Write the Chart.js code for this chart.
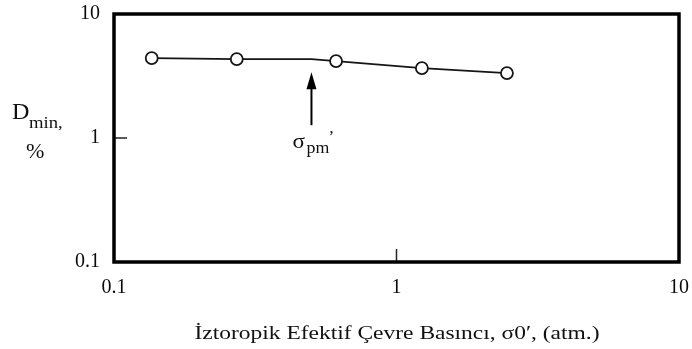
<!DOCTYPE html>
<html>
<head>
<meta charset="utf-8">
<script src="https://cdn.jsdelivr.net/npm/chart.js@4/dist/chart.umd.min.js"></script>
<style>
  html, body { margin: 0; padding: 0; background: #fff; }
  #wrap { width: 692px; height: 349px; }
</style>
</head>
<body>
<div id="wrap"><canvas id="c" width="692" height="349"></canvas></div>
<script>
// Minimum damping ratio vs. isotropic effective confining pressure (log-log)
const pressureAtm = [0.136, 0.272, 0.611, 1.23, 2.46];
const dminPct = [4.41, 4.33, 4.17, 3.66, 3.34];

// Pre-consolidation pressure marked on the curve (a vertex of the line, no marker)
const sigmaPmAtm = 0.5;
const dminAtSigmaPm = 4.32;

const xTickValues = [0.1, 1, 10];
const yTickValues = [0.1, 1, 10];
const xTickLabels = ['0.1', '1', '10'];
const yTickLabels = ['0.1', '1', '10'];

const xTitle = 'İztoropik Efektif Çevre Basıncı, σ0\u2032, (atm.)';

const SERIF = "'Liberation Serif', 'Times New Roman', Times, serif";

// Curve vertices: measured points plus the σpm' vertex, sorted by pressure
const curve = pressureAtm.map((x, i) => ({ x, y: dminPct[i] }))
  .concat([{ x: sigmaPmAtm, y: dminAtSigmaPm }])
  .sort((a, b) => a.x - b.x);
const markers = pressureAtm.map((x, i) => ({ x, y: dminPct[i] }));

// text slightly widened, like the typeset figure
function wideText(ctx, text, x, y, font, sx) {
  ctx.save();
  ctx.font = font;
  ctx.translate(x, y);
  ctx.scale(sx, 1);
  ctx.fillText(text, 0, 0);
  ctx.restore();
}

const decorations = {
  id: 'decorations',
  afterDraw(chart) {
    const { ctx, chartArea: a, scales: { x: xs, y: ys } } = chart;
    ctx.save();

    // inner tick marks at 1
    ctx.strokeStyle = '#222';
    ctx.lineWidth = 1.5;
    const x1 = xs.getPixelForValue(1);
    const y1 = ys.getPixelForValue(1);
    ctx.beginPath();
    ctx.moveTo(x1, a.bottom); ctx.lineTo(x1, a.bottom - 13);
    ctx.moveTo(a.left, y1); ctx.lineTo(a.left + 13, y1);
    ctx.stroke();

    // frame
    ctx.lineWidth = 3.5;
    ctx.strokeStyle = '#000';
    ctx.strokeRect(a.left, a.top, a.right - a.left, a.bottom - a.top);

    // arrow pointing at σpm'
    const ax = xs.getPixelForValue(sigmaPmAtm);
    const tip = ys.getPixelForValue(dminAtSigmaPm) + 13;
    ctx.fillStyle = '#000';
    ctx.beginPath();
    ctx.moveTo(ax, tip);
    ctx.lineTo(ax - 5, tip + 17);
    ctx.lineTo(ax + 5, tip + 17);
    ctx.closePath();
    ctx.fill();
    ctx.lineWidth = 2;
    ctx.beginPath();
    ctx.moveTo(ax, tip + 12); ctx.lineTo(ax, tip + 53);
    ctx.stroke();

    // σpm' label
    ctx.fillStyle = '#111';
    ctx.textBaseline = 'alphabetic';
    ctx.textAlign = 'left';
    wideText(ctx, 'σ', ax - 19, tip + 76, '22px ' + SERIF, 1.05);
    wideText(ctx, 'pm', ax - 5, tip + 81, '17px ' + SERIF, 1.05);
    wideText(ctx, '\u2019', ax + 17, tip + 70, '17px ' + SERIF, 1);

    // y-axis title
    wideText(ctx, 'D', 12, 119, '23px ' + SERIF, 1.05);
    wideText(ctx, 'min,', 29, 128, '17px ' + SERIF, 1.1);
    wideText(ctx, '%', 26, 158, '21px ' + SERIF, 1.05);

    // x-axis title, fitted to its span
    ctx.font = '19px ' + SERIF;
    const w = ctx.measureText(xTitle).width;
    const target = 405;
    const cx = (a.left + a.right) / 2 + 0.5;
    ctx.translate(cx, 339);
    ctx.scale(target / w, 1);
    ctx.textAlign = 'center';
    ctx.fillText(xTitle, 0, 0);

    ctx.restore();
  }
};

const tickFont = { family: SERIF, size: 20 };

new Chart(document.getElementById('c'), {
  type: 'scatter',
  data: {
    datasets: [
      {
        data: markers,
        showLine: false,
        pointRadius: 6,
        pointHoverRadius: 6,
        pointBorderWidth: 1.8,
        pointBorderColor: '#151515',
        pointBackgroundColor: '#fff',
        order: 0
      },
      {
        data: curve,
        showLine: true,
        borderColor: '#151515',
        borderWidth: 1.8,
        pointRadius: 0,
        pointHoverRadius: 0,
        order: 1
      }
    ]
  },
  options: {
    responsive: false,
    animation: false,
    events: [],
    layout: { padding: { top: 14, right: 13, left: 0, bottom: 0 } },
    plugins: { legend: { display: false }, tooltip: { enabled: false } },
    scales: {
      x: {
        type: 'logarithmic',
        min: 0.1, max: 10,
        afterBuildTicks(s) { s.ticks = xTickValues.map(v => ({ value: v })); },
        afterFit(s) { s.height = 87; s.paddingLeft = 0; s.paddingRight = 0; },
        grid: { display: false, drawTicks: false },
        border: { display: false },
        ticks: {
          font: tickFont, color: '#0a0a0a', padding: 14, maxRotation: 0, autoSkip: false,
          callback: (v) => xTickLabels[xTickValues.indexOf(v)] ?? ''
        }
      },
      y: {
        type: 'logarithmic',
        min: 0.1, max: 10,
        afterBuildTicks(s) { s.ticks = yTickValues.map(v => ({ value: v })); },
        afterFit(s) { s.width = 114; s.paddingTop = 0; s.paddingBottom = 0; },
        grid: { display: false, drawTicks: false },
        border: { display: false },
        ticks: {
          font: tickFont, color: '#0a0a0a', padding: 14, autoSkip: false,
          callback: (v) => yTickLabels[yTickValues.indexOf(v)] ?? ''
        }
      }
    }
  },
  plugins: [decorations]
});
</script>
</body>
</html>
